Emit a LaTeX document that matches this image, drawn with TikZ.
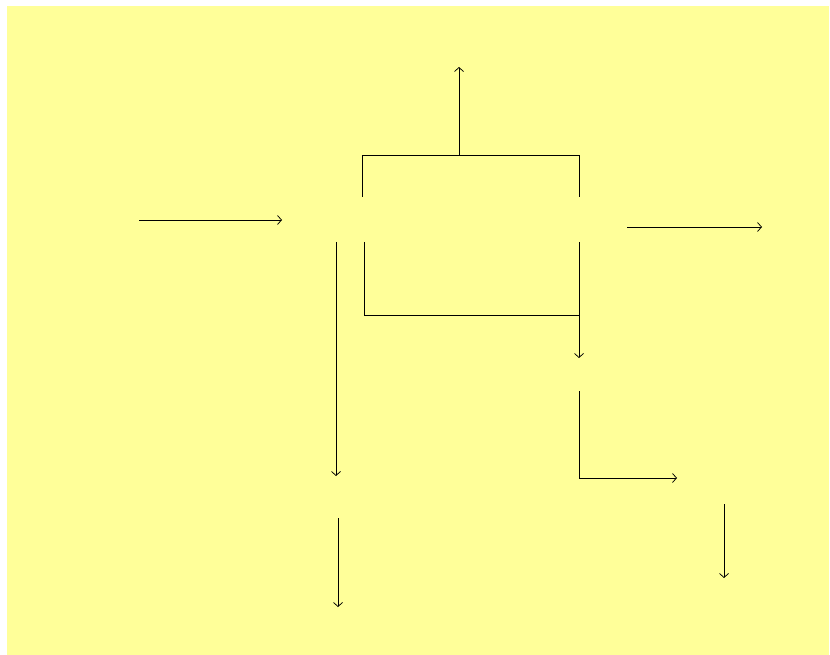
\documentclass[tikz,border=0pt]{standalone}
\usetikzlibrary{arrows.meta}
\definecolor{bgyellow}{RGB}{255,255,153}
\begin{document}
\begin{tikzpicture}[x=1pt,y=-1pt,
  conn/.style={line width=0.75pt,draw=black},
  arr/.style={conn,-{Straight Barb[length=4pt,width=9pt]}}]
\useasboundingbox (0,0) rectangle (830,655);
\fill[bgyellow] (7,6) rectangle (829,655);
% named end points
\coordinate (inA) at (139,220);
\coordinate (inB) at (282,220);
\coordinate (tl) at (362,197);
\coordinate (tlc) at (362,155);
\coordinate (trc) at (579,155);
\coordinate (tr) at (579,197);
\coordinate (topm) at (459,155);
\coordinate (topout) at (459,67);
\coordinate (bl) at (364,242);
\coordinate (blc) at (364,315);
\coordinate (br) at (579,242);
\coordinate (brc) at (579,315);
\coordinate (brout) at (579,358);
\coordinate (lA) at (336,242);
\coordinate (lB) at (336,476);
\coordinate (lC) at (338,518);
\coordinate (lD) at (338,607);
\coordinate (rA) at (627,227);
\coordinate (rB) at (762,227);
\coordinate (LA) at (579,391);
\coordinate (LC) at (579,478);
\coordinate (LB) at (677,478);
\coordinate (dA) at (724,504);
\coordinate (dB) at (724,578);
% connectors
\draw[arr] (inA) -- (inB);
\draw[conn] (tl) -- (tlc) -- (trc) -- (tr);
\draw[arr] (topm) -- (topout);
\draw[conn] (bl) -- (blc) -- (brc);
\draw[arr] (br) -- (brout);
\draw[arr] (lA) -- (lB);
\draw[arr] (lC) -- (lD);
\draw[arr] (rA) -- (rB);
\draw[arr] (LA) -- (LC) -- (LB);
\draw[arr] (dA) -- (dB);
\end{tikzpicture}
\end{document}
